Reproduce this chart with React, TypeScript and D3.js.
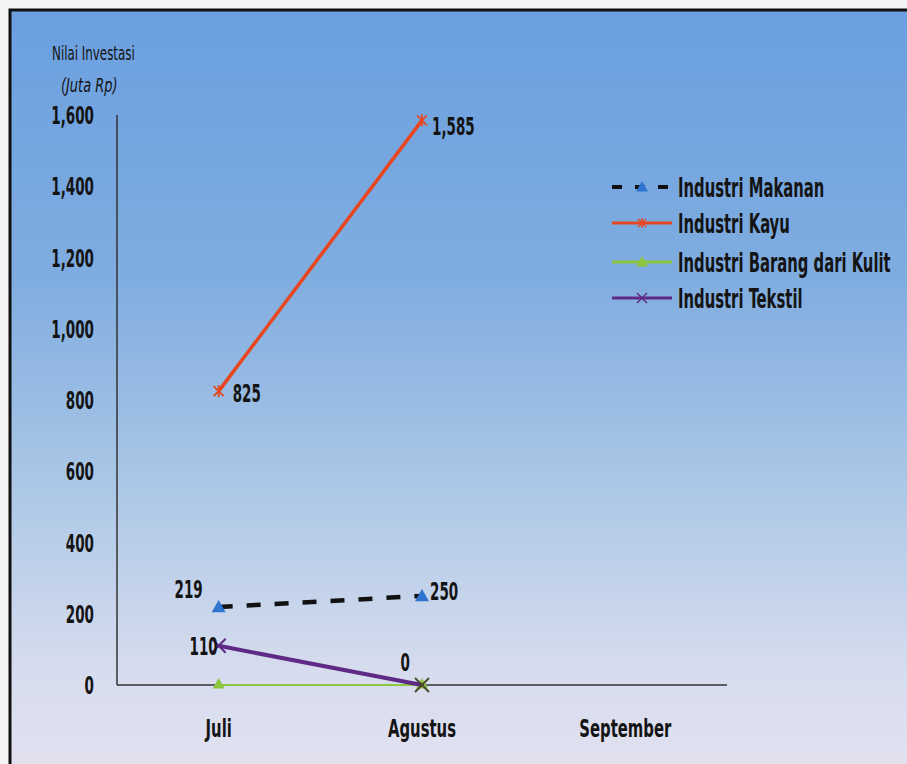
import React from "react";
import * as d3 from "d3";

const categories = ["Juli", "Agustus", "September"];
const yTicks = [0, 200, 400, 600, 800, 1000, 1200, 1400, 1600];
const makanan = [219, 250];
const kayu = [825, 1585];
const kulit = [0, 0];
const tekstil = [110, 0];
const legendLabels = ["Industri Makanan", "Industri Kayu", "Industri Barang dari Kulit", "Industri Tekstil"];

const W = 907, H = 764;
const FONT = "'Liberation Sans Narrow', 'DejaVu Sans Condensed', 'Liberation Sans', sans-serif";

const T = ({ x, y, children, size = 22, anchor = "start", sx = 0.72, italic = false, weight = "bold" }: any) => (
  <text
    transform={`translate(${x},${y}) scale(${sx},1)`}
    fontFamily={FONT}
    fontSize={size}
    fontWeight={weight}
    fontStyle={italic ? "italic" : "normal"}
    textAnchor={anchor}
    fill="#141414"
  >
    {children}
  </text>
);

const Tri = ({ x, y, color, r = 7 }: any) => (
  <path d={`M${x},${y - r} L${x + r},${y + r * 0.75} L${x - r},${y + r * 0.75} Z`} fill={color} />
);
const Cross = ({ x, y, color, r = 6, w = 2, star = false }: any) => (
  <g stroke={color} strokeWidth={w}>
    <line x1={x - r} y1={y - r} x2={x + r} y2={y + r} />
    <line x1={x - r} y1={y + r} x2={x + r} y2={y - r} />
    {star && <line x1={x} y1={y - r - 1} x2={x} y2={y + r + 1} />}
  </g>
);

export default function App() {
  const x = d3.scalePoint<string>().domain(categories).range([117, 727]).padding(0.5);
  const y = d3.scaleLinear().domain([0, 1600]).range([685, 115]);
  const line = d3.line<number>().x((_, i) => x(categories[i])!).y((d) => y(d));

  const BLUE = "#2f74cf", RED = "#e8461e", GREEN = "#8dc63f", PURPLE = "#5e2a86";
  const legY = [187, 223, 262, 298];

  return (
    <svg width={W} height={H} style={{ position: "absolute", left: 0, top: 0 }}>
      <defs>
        <linearGradient id="bg" x1="0" y1="0" x2="0" y2="1">
          <stop offset="0" stopColor="#6a9fe0" />
          <stop offset="0.35" stopColor="#80ade0" />
          <stop offset="0.6" stopColor="#a9c6e6" />
          <stop offset="0.85" stopColor="#d6dcee" />
          <stop offset="1" stopColor="#e4e2f0" />
        </linearGradient>
      </defs>
      <rect x={0} y={0} width={W} height={H} fill="#f4f4f4" />
      <rect x={10} y={10} width={W + 10} height={H + 10} fill="url(#bg)" stroke="#111" strokeWidth={3} />

      {/* axis titles */}
      <T x={52} y={60} size={20} sx={0.66} weight="normal">Nilai Investasi</T>
      <T x={61} y={92} size={20} sx={0.72} weight="normal" italic>(Juta Rp)</T>

      {/* axes */}
      <line x1={117} y1={115} x2={117} y2={685} stroke="#333" strokeWidth={1.5} />
      <line x1={117} y1={685} x2={727} y2={685} stroke="#333" strokeWidth={1.5} />

      {yTicks.map((t) => (
        <T key={t} x={94} y={y(t) + 9} size={25} sx={0.6} anchor="end">
          {d3.format(",")(t)}
        </T>
      ))}
      {categories.map((c) => (
        <T key={c} x={x(c)!} y={737} size={25} sx={0.66} anchor="middle">
          {c}
        </T>
      ))}

      {/* Kulit */}
      <path d={line(kulit)!} fill="none" stroke={GREEN} strokeWidth={2} />
      {kulit.map((d, i) => <Tri key={i} x={x(categories[i])!} y={y(d) - 1} color={GREEN} r={6} />)}

      {/* Tekstil */}
      <path d={line(tekstil)!} fill="none" stroke={PURPLE} strokeWidth={4} />
      {tekstil.map((d, i) => <Cross key={i} x={x(categories[i])!} y={y(d)} color={i === 1 ? "#4a4a2a" : PURPLE} r={7} w={2} />)}

      {/* Makanan */}
      <path d={line(makanan)!} fill="none" stroke="#111" strokeWidth={4.5} strokeDasharray="14,14" />
      {makanan.map((d, i) => <Tri key={i} x={x(categories[i])!} y={y(d)} color={BLUE} r={7} />)}

      {/* Kayu */}
      <path d={line(kayu)!} fill="none" stroke={RED} strokeWidth={3.5} />
      {kayu.map((d, i) => <Cross key={i} x={x(categories[i])!} y={y(d)} color={RED} r={5} w={1.8} star />)}

      {/* data labels */}
      <T x={x("Juli")! - 16} y={y(makanan[0]) - 9} size={25} sx={0.6} anchor="end">219</T>
      <T x={x("Agustus")! + 8} y={y(makanan[1]) + 4} size={25} sx={0.6}>250</T>
      <T x={x("Juli")! + 14} y={y(kayu[0]) + 11} size={25} sx={0.6}>825</T>
      <T x={x("Agustus")! + 10} y={y(kayu[1]) + 15} size={25} sx={0.6}>1,585</T>
      <T x={x("Juli")! - 1} y={y(tekstil[0]) + 9} size={25} sx={0.6} anchor="end">110</T>
      <T x={x("Agustus")! - 12} y={y(tekstil[1]) - 14} size={25} sx={0.6} anchor="end">0</T>

      {/* legend */}
      {legendLabels.map((l, i) => {
        const ly = legY[i];
        return (
          <g key={l}>
            {i === 0 && (
              <>
                <line x1={612} y1={ly} x2={672} y2={ly} stroke="#111" strokeWidth={4} strokeDasharray="10,13" />
                <Tri x={642} y={ly} color={BLUE} r={6} />
              </>
            )}
            {i === 1 && (
              <>
                <line x1={612} y1={ly} x2={672} y2={ly} stroke={RED} strokeWidth={3} />
                <Cross x={642} y={ly} color={RED} r={4} w={1.5} star />
              </>
            )}
            {i === 2 && (
              <>
                <line x1={612} y1={ly} x2={672} y2={ly} stroke={GREEN} strokeWidth={3} />
                <Tri x={642} y={ly} color={GREEN} r={6} />
              </>
            )}
            {i === 3 && (
              <>
                <line x1={612} y1={ly} x2={672} y2={ly} stroke={PURPLE} strokeWidth={3} />
                <Cross x={642} y={ly} color={PURPLE} r={5} w={1.5} />
              </>
            )}
            <T x={678} y={ly + 10} size={27} sx={0.61}>{l}</T>
          </g>
        );
      })}
    </svg>
  );
}
